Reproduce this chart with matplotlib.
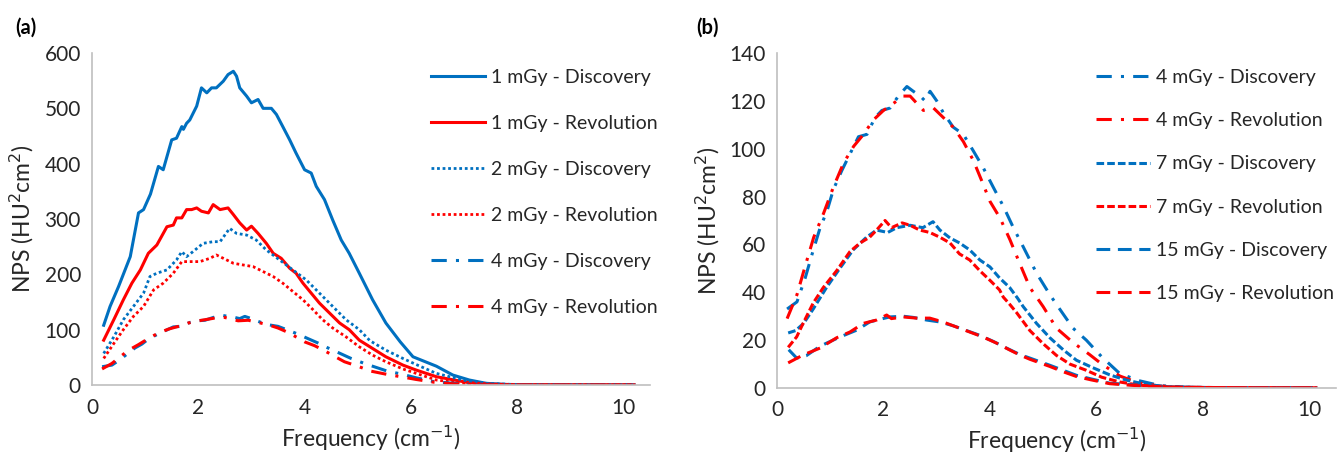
import matplotlib
matplotlib.use("Agg")
import matplotlib.pyplot as plt

# ---------------- data ----------------
# Panel (a)
a_1_disc_x = [0.22,0.34,0.5,0.72,0.875,0.97,1.1,1.25,1.34,1.5,1.59,1.69,1.72,1.78,1.84,1.97,2.06,2.16,2.25,2.34,2.47,2.56,2.66,2.72,2.78,2.91,3.0,3.125,3.22,3.375,3.47,3.59,3.72,3.84,4.0,4.125,4.22,4.375,4.53,4.69,4.84,5.03,5.28,5.53,5.8,6.04,6.48,6.79,7.1,7.42,7.8,8.3,9.0,10.2]
a_1_disc_y = [108,142,178,232,311,317,345,395,389,443,446,467,462,473,479,504,537,528,537,537,549,561,567,558,537,522,510,516,500,500,489,467,443,419,389,383,359,335,298,262,238,202,154,112,78,51,34,18,9,3,1,0.5,0.3,0.3]

a_1_rev_x = [0.22,0.41,0.59,0.75,0.91,1.06,1.22,1.41,1.53,1.59,1.69,1.78,1.875,1.97,2.06,2.19,2.28,2.41,2.56,2.66,2.78,2.91,3.0,3.125,3.28,3.41,3.56,3.72,3.84,3.97,4.125,4.28,4.47,4.66,4.84,5.03,5.28,5.53,5.85,6.1,6.48,7.1,7.5,8.0,9.0,10.2]
a_1_rev_y = [81,118,154,184,208,238,253,286,289,302,302,317,317,320,314,311,326,317,320,308,293,280,287,274,256,238,229,211,202,184,166,148,130,112,100,81,66,51,36,27,15,4,1.5,0.5,0.3,0.3]

a_2_disc_x = [0.22,0.41,0.59,0.78,0.97,1.09,1.22,1.41,1.59,1.69,1.78,1.9,2.09,2.28,2.41,2.59,2.72,2.91,3.09,3.28,3.53,3.78,4.03,4.28,4.53,4.78,5.03,5.23,5.53,5.85,6.1,6.48,6.98,7.42,7.9,8.5,9.2,10.2]
a_2_disc_y = [57,87,118,142,166,196,202,208,226,241,232,241,256,259,259,283,274,271,262,244,226,208,190,166,142,118,100,80,63,48,37,21,9,3,1,0.5,0.3,0.3]

a_2_rev_x = [0.22,0.41,0.59,0.78,0.97,1.16,1.34,1.53,1.69,1.84,2.03,2.22,2.34,2.47,2.66,2.84,3.03,3.22,3.41,3.59,3.78,3.97,4.16,4.34,4.53,4.78,5.03,5.28,5.53,5.85,6.1,6.48,7.0,7.5,8.0,9.0,10.2]
a_2_rev_y = [48,75,100,124,142,172,184,202,223,223,223,229,235,229,220,217,214,205,196,184,169,154,136,118,103,87,69,54,42,29,21,9,3,1,0.5,0.3,0.3]

# 4 mGy (shown in both panels)
d4_disc_x = [0.19,0.375,0.53,0.66,0.81,0.94,1.06,1.22,1.375,1.53,1.69,1.84,1.97,2.125,2.28,2.44,2.56,2.69,2.78,2.875,3.0,3.125,3.31,3.5,3.69,3.875,4.06,4.25,4.44,4.625,4.875,5.125,5.31,5.56,5.81,6.1,6.44,6.81,7.2,7.6,8.0,9.0,10.15]
d4_disc_y = [33,36,46,56,67,74,83,91,98,105,106,113,116,117,122,126,124,122,120,124,120,115,109,106,99,92,84,76,67,59,48,39,33,25,20,13,6,3,1,0.4,0.2,0.1,0.1]

d4_rev_x = [0.19,0.375,0.53,0.69,0.875,1.06,1.25,1.44,1.625,1.81,2.0,2.19,2.375,2.5,2.625,2.75,2.94,3.125,3.31,3.5,3.69,3.875,4.0,4.19,4.375,4.56,4.75,5.0,5.25,5.56,5.87,6.1,6.44,6.81,7.2,7.6,8.0,9.0,10.15]
d4_rev_y = [29,39,51,63,73,84,94,101,106,112,116,119,122,122,119,116,117,113,109,103,95,85,78,71,62,52,42,34,25,19,14,10,5,2,0.8,0.3,0.2,0.1,0.1]

# Panel (b)
b_7_disc_x = [0.21,0.35,0.5,0.68,0.93,1.18,1.43,1.68,1.87,2.08,2.25,2.5,2.74,2.93,3.06,3.25,3.43,3.62,3.81,4.0,4.18,4.37,4.52,4.625,4.875,5.125,5.375,5.625,5.93,6.25,6.56,6.93,7.3,7.7,8.2,9.0,10.15]
b_7_disc_y = [23,24,27,33,42,50,57.7,63,66,65,67,68,67,69.5,66,62.7,60.6,57.7,53.5,50.6,46,42,37.5,34,27,21,16,11.6,8.5,5.5,3.3,1.5,0.6,0.3,0.2,0.1,0.1]

b_7_rev_x = [0.21,0.37,0.49,0.68,0.87,1.12,1.37,1.56,1.74,1.87,2.03,2.15,2.35,2.5,2.68,2.87,3.06,3.25,3.43,3.62,3.81,4.0,4.18,4.25,4.37,4.5,4.75,5.0,5.25,5.5,5.81,6.1,6.44,6.8,7.2,7.6,8.2,9.0,10.15]
b_7_rev_y = [17,21.4,27,35.5,42,49,57,60.6,63,66,70,67,69,68,66,65,63,60.6,56,53.5,49,45,41,38,35,31.5,24,18.5,13.6,10,7.4,4.5,2.5,1.2,0.5,0.3,0.2,0.1,0.1]

b_15_disc_x = [0.22,0.37,0.55,0.81,1.18,1.5,1.74,1.93,2.12,2.37,2.56,2.81,3.06,3.31,3.56,3.81,4.06,4.31,4.56,4.75,5.125,5.375,5.625,5.9,6.25,6.87,7.4,8.0,9.0,10.15]
b_15_disc_y = [16,12.5,13.5,17.5,21.3,24.2,27.6,28.7,29.7,30,29.5,28.4,27.6,26,24,22,19.5,16.7,14,12.5,9.5,7.4,5.3,3.8,2,1,0.4,0.2,0.1,0.1]

b_15_rev_x = [0.21,0.49,0.81,1.12,1.37,1.62,1.87,2.06,2.15,2.37,2.62,2.87,3.12,3.37,3.62,3.87,4.12,4.37,4.56,4.75,5.125,5.375,5.625,5.9,6.25,6.87,7.4,8.0,9.0,10.15]
b_15_rev_y = [10.5,13.8,16.7,21,23.4,27,28.4,30.5,29,29.7,29.2,29.2,27.6,25.5,23.4,21.3,18.8,15.9,13.8,12,9,6.8,4.8,3.4,1.8,0.8,0.4,0.2,0.1,0.1]

labels_a = ["1 mGy - Discovery", "1 mGy - Revolution", "2 mGy - Discovery",
            "2 mGy - Revolution", "4 mGy - Discovery", "4 mGy - Revolution"]
labels_b = ["4 mGy - Discovery", "4 mGy - Revolution", "7 mGy - Discovery",
            "7 mGy - Revolution", "15 mGy - Discovery", "15 mGy - Revolution"]
x_ticks = [0, 2, 4, 6, 8, 10]
y_ticks_a = [0, 100, 200, 300, 400, 500, 600]
y_ticks_b = [0, 20, 40, 60, 80, 100, 120, 140]

# ---------------- styling ----------------
BLUE = "#0070C0"
RED = "#FF0000"
FONT = "Lato"
TXTC = "#262626"
plt.rcParams["font.family"] = [FONT, "DejaVu Sans"]

W, H = 1342, 455
fig = plt.figure(figsize=(W / 100, H / 100), dpi=100)

def px_axes(x0, x1, ytop, ybot):
    return fig.add_axes([x0 / W, 1 - ybot / H, (x1 - x0) / W, (ybot - ytop) / H])

SOLID = dict(linestyle="-", linewidth=2.2)
DOT = dict(linestyle=(0, (1, 1)), linewidth=2.0)
DASHDOT = dict(linestyle=(0, (5, 3, 1, 3)), linewidth=2.2)
SHORTDASH = dict(linestyle=(0, (2.5, 1)), linewidth=2.2)
MEDDASH = dict(linestyle=(0, (4.5, 2.5)), linewidth=2.2)

def style_axes(ax, yticks, ymax):
    ax.set_xlim(0, 10.5)
    ax.set_ylim(0, ymax)
    ax.set_xticks(x_ticks)
    ax.set_yticks(yticks)
    for s in ("top", "right"):
        ax.spines[s].set_visible(False)
    for s in ("left", "bottom"):
        ax.spines[s].set_color("#bfbfbf")
        ax.spines[s].set_linewidth(1.2)
    ax.tick_params(length=0, labelsize=15, labelcolor=TXTC)
    ax.tick_params(axis="y", pad=8)
    ax.tick_params(axis="x", pad=9)
    ax.set_xlabel("Frequency (cm$^{-1}$)", fontsize=16.5, color=TXTC)
    ax.set_ylabel("NPS (HU$^{2}$cm$^{2}$)", fontsize=16.5, color=TXTC)
    ax.yaxis.label.set_va("center")
    ax.xaxis.label.set_va("center")

# ---------------- panel (a) ----------------
axa = px_axes(92, 650, 53, 385)
ha = []
ha += axa.plot(a_1_disc_x, a_1_disc_y, color=BLUE, **SOLID)
ha += axa.plot(a_1_rev_x, a_1_rev_y, color=RED, **SOLID)
ha += axa.plot(a_2_disc_x, a_2_disc_y, color=BLUE, **DOT)
ha += axa.plot(a_2_rev_x, a_2_rev_y, color=RED, **DOT)
ha += axa.plot(d4_disc_x, d4_disc_y, color=BLUE, **DASHDOT)
ha += axa.plot(d4_rev_x, d4_rev_y, color=RED, **DASHDOT)
style_axes(axa, y_ticks_a, 600)
axa.yaxis.set_label_coords((22 - 92) / 558, 0.5)
axa.xaxis.set_label_coords(0.5, (385 - 438) / 332)

fig.legend(ha, labels_a, loc="upper left", bbox_to_anchor=(431 / W, 1 - 69 / H),
           frameon=False, fontsize=14, handlelength=2.8, handletextpad=0.3,
           labelspacing=1.49, borderpad=0, borderaxespad=0, labelcolor=TXTC)

# ---------------- panel (b) ----------------
axb = px_axes(777, 1336, 53, 388)
hb = []
hb += axb.plot(d4_disc_x, d4_disc_y, color=BLUE, **DASHDOT)
hb += axb.plot(d4_rev_x, d4_rev_y, color=RED, **DASHDOT)
hb += axb.plot(b_7_disc_x, b_7_disc_y, color=BLUE, **SHORTDASH)
hb += axb.plot(b_7_rev_x, b_7_rev_y, color=RED, **SHORTDASH)
hb += axb.plot(b_15_disc_x, b_15_disc_y, color=BLUE, **MEDDASH)
hb += axb.plot(b_15_rev_x, b_15_rev_y, color=RED, **MEDDASH)
style_axes(axb, y_ticks_b, 140)
axb.yaxis.set_label_coords((708 - 777) / 559, 0.5)
axb.xaxis.set_label_coords(0.5, (388 - 440) / 335)

fig.legend(hb, labels_b, loc="upper left", bbox_to_anchor=(1096 / W, 1 - 69 / H),
           frameon=False, fontsize=14, handlelength=2.8, handletextpad=0.3,
           labelspacing=1.35, borderpad=0, borderaxespad=0, labelcolor=TXTC)

# panel letters
fig.text(15 / W, 1 - 28 / H, "(a)", fontsize=14.5, fontweight="bold", va="center", ha="left", color="black")
fig.text(696 / W, 1 - 28 / H, "(b)", fontsize=14.5, fontweight="bold", va="center", ha="left", color="black")

fig.savefig("out.png", dpi=100, facecolor="white")
